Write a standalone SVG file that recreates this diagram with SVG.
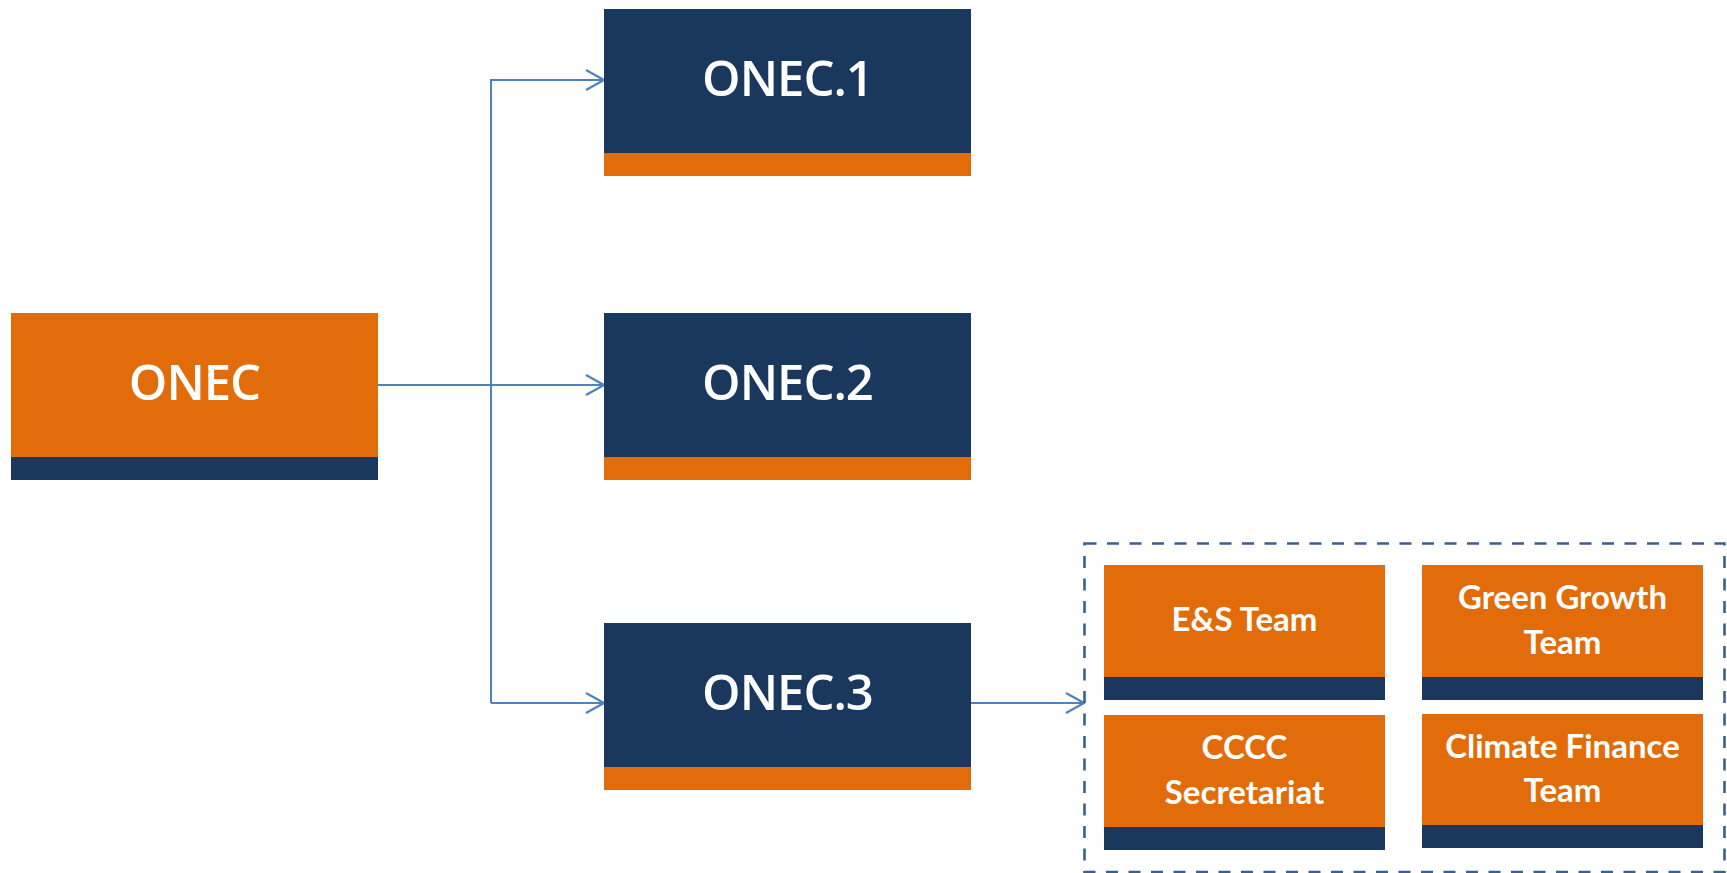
<svg xmlns="http://www.w3.org/2000/svg" width="1727" height="873" viewBox="0 0 1727 873">
<defs>
<style>
.org{fill:#E36C0A}
.nav{fill:#1A375E}
.t1{font-family:"Open Sans","DejaVu Sans",sans-serif;font-weight:600;font-size:49px;letter-spacing:-1px;fill:#FFFFFF;text-anchor:middle}
.t2{font-family:Lato,"Liberation Sans",sans-serif;font-weight:700;font-size:33px;fill:#FFFFFF;text-anchor:middle}
.con{fill:none;stroke:#4F81BD;stroke-width:2}
</style>
<marker id="arr" viewBox="0 0 20 22" refX="19" refY="11" markerWidth="20" markerHeight="22" markerUnits="userSpaceOnUse" orient="auto">
<path d="M1,1 L19,11 L1,21" fill="none" stroke="#4F81BD" stroke-width="2.2"/>
</marker>
</defs>
<rect width="1727" height="873" fill="#FFFFFF"/>
<g id="connectors">
<path class="con" d="M378,385 L604,385" marker-end="url(#arr)"/>
<path class="con" d="M491,703 L491,80 L604,80" marker-end="url(#arr)"/>
<path class="con" d="M491,703 L604,703" marker-end="url(#arr)"/>
<path class="con" d="M971,703 L1084,703" marker-end="url(#arr)"/>
</g>
<g id="onec">
<rect class="org" x="11" y="313" width="367" height="144"/>
<rect class="nav" x="11" y="457" width="367" height="23"/>
<text class="t1" x="194.5" y="400">ONEC</text>
</g>
<g id="onec1">
<rect class="nav" x="604" y="9" width="367" height="144"/>
<rect class="org" x="604" y="153" width="367" height="23"/>
<text class="t1" x="787.5" y="96">ONEC.1</text>
</g>
<g id="onec2">
<rect class="nav" x="604" y="313" width="367" height="144"/>
<rect class="org" x="604" y="457" width="367" height="23"/>
<text class="t1" x="787.5" y="400">ONEC.2</text>
</g>
<g id="onec3">
<rect class="nav" x="604" y="623" width="367" height="144"/>
<rect class="org" x="604" y="767" width="367" height="23"/>
<text class="t1" x="787.5" y="710">ONEC.3</text>
</g>
<g id="teams">
<rect x="1084.5" y="543.5" width="640" height="328.5" fill="none" stroke="#3B5F8E" stroke-width="2.6" stroke-dasharray="12 10.5"/>
</g>
<g id="es-team">
<rect class="org" x="1104" y="565" width="281" height="112"/>
<rect class="nav" x="1104" y="677" width="281" height="23"/>
<text class="t2" x="1244.5" y="631">E&amp;S Team</text>
</g>
<g id="green-growth">
<rect class="org" x="1422" y="565" width="281" height="112"/>
<rect class="nav" x="1422" y="677" width="281" height="23"/>
<text class="t2" x="1562.5" y="609">Green Growth</text>
<text class="t2" x="1562.5" y="654">Team</text>
</g>
<g id="cccc">
<rect class="org" x="1104" y="715" width="281" height="112"/>
<rect class="nav" x="1104" y="827" width="281" height="23"/>
<text class="t2" x="1244.5" y="759">CCCC</text>
<text class="t2" x="1244.5" y="804">Secretariat</text>
</g>
<g id="climate-finance">
<rect class="org" x="1422" y="714" width="281" height="111"/>
<rect class="nav" x="1422" y="825" width="281" height="23"/>
<text class="t2" x="1562.5" y="758">Climate Finance</text>
<text class="t2" x="1562.5" y="802">Team</text>
</g>
</svg>
